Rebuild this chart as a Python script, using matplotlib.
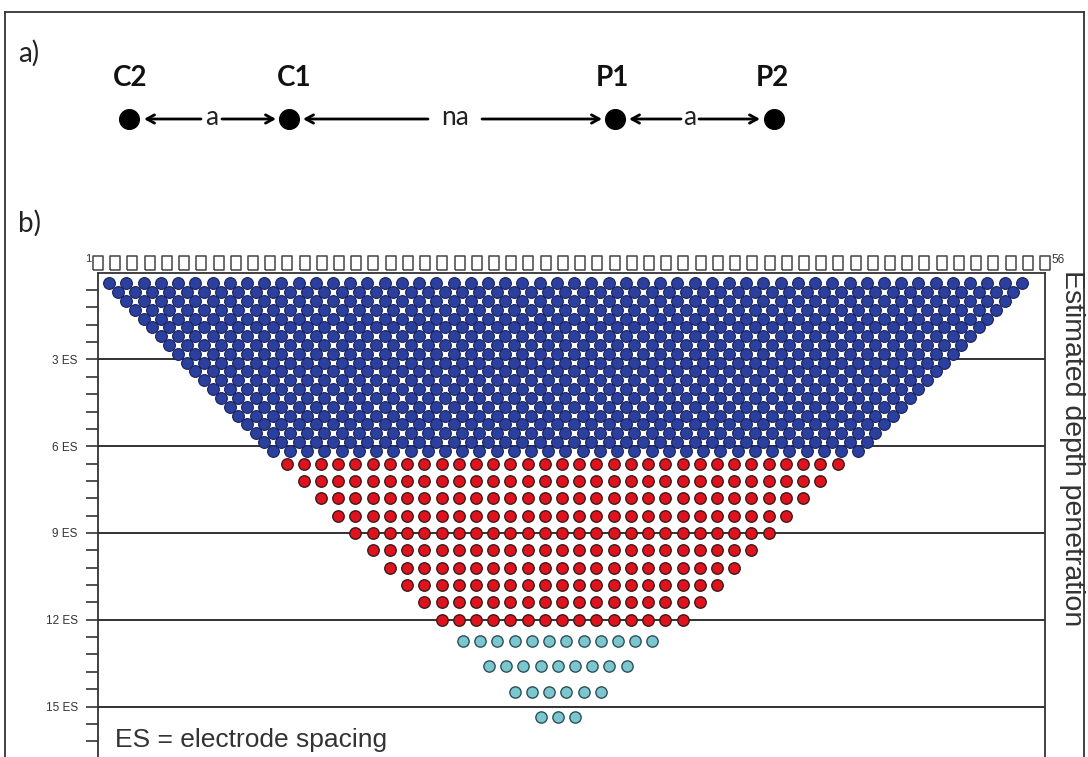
import numpy as np
import matplotlib
matplotlib.use("Agg")
import matplotlib.pyplot as plt

# ---------------- data ----------------
electrode_ids = list(range(1, 57))          # 56 electrodes
electrode_labels = ["C2", "C1", "P1", "P2"]
spacing_labels = ["a", "na", "a"]

# blue block: depth (ES), first position (electrode units), number of points
blue_depths = [0.37, 0.67, 0.98, 1.28, 1.59, 1.89, 2.20, 2.50, 2.80, 3.11,
               3.41, 3.72, 4.02, 4.33, 4.63, 4.94, 5.24, 5.54, 5.85, 6.15]
blue_starts = [1.65, 2.15, 2.65, 3.15, 3.65, 4.15, 4.65, 5.15, 5.65, 6.15,
               6.65, 7.15, 7.65, 8.15, 8.65, 9.15, 9.65, 10.15, 10.65, 11.15]
blue_counts = [54, 53, 52, 51, 50, 49, 48, 47, 46, 45,
               44, 43, 42, 41, 40, 39, 38, 37, 36, 35]

red_depths = [6.6, 7.2, 7.8, 8.4, 9.0, 9.6, 10.2, 10.8, 11.4, 12.0]
red_starts = [11.95, 12.95, 13.95, 14.95, 15.95, 16.95, 17.95, 18.95, 19.95, 20.95]
red_counts = [33, 31, 29, 27, 25, 23, 21, 19, 17, 15]

cyan_depths = [12.74, 13.60, 14.49, 15.35]
cyan_starts = [22.20, 23.70, 25.20, 26.70]
cyan_counts = [12, 9, 6, 3]

depth_lines = [3, 6, 9, 12, 15]
depth_labels = ["3 ES", "6 ES", "9 ES", "12 ES", "15 ES"]

# ---------------- figure ----------------
W, H = 1088, 757
fig = plt.figure(figsize=(W / 100, H / 100), dpi=100)
fig.patch.set_facecolor("white")

# overlay in pixel coordinates for the schematic and texts
ov = fig.add_axes([0, 0, 1, 1], zorder=0)
ov.set_xlim(0, W)
ov.set_ylim(H, 0)
ov.axis("off")

# outer frame
ov.plot([5, 5], [12, H], color="#333333", lw=1.3)
ov.plot([5, 1084], [12, 12], color="#333333", lw=1.3)
ov.plot([1084, 1084], [12, H], color="#333333", lw=1.3)

lab_font = "Lato"
ov.text(18, 62, "a)", fontsize=20, family=lab_font, va="baseline", ha="left", color="#222")
ov.text(18, 232, "b)", fontsize=20, family=lab_font, va="baseline", ha="left", color="#222")

# a) dipole-dipole schematic
dot_x = [129, 289, 615, 774]
lab_x = [130, 294, 612, 772]
dot_y = 119
ov.scatter(dot_x, [dot_y] * 4, s=200, color="black", zorder=3)
for lx, lab in zip(lab_x, electrode_labels):
    ov.text(lx, 86, lab, fontsize=20, fontweight="bold", family=lab_font,
            ha="center", va="baseline", color="#111")

arrow_kw = dict(arrowstyle="->,head_length=0.55,head_width=0.3", lw=2, color="black",
                shrinkA=0, shrinkB=0)
segments = [
    ((201, 144), (222, 276), 212),   # between C2 and C1
    ((428, 303), (482, 602), 455),   # between C1 and P1
    ((681, 629), (699, 760), 690),   # between P1 and P2
]
for (left_tail, left_tip), (right_tail, right_tip), tx in segments:
    ov.annotate("", xy=(left_tip, dot_y), xytext=(left_tail, dot_y), arrowprops=arrow_kw)
    ov.annotate("", xy=(right_tip, dot_y), xytext=(right_tail, dot_y), arrowprops=arrow_kw)
for (seg, lab) in zip(segments, spacing_labels):
    ov.text(seg[2], 125, lab, fontsize=19, family=lab_font, ha="center",
            va="baseline", color="#222")

# ---------------- b) pseudosection ----------------
x0, x1 = 98, 1045
ytop = 272.7
es_px = 28.92
ymax = (H - ytop) / es_px
ax = fig.add_axes([x0 / W, 0, (x1 - x0) / W, 1 - ytop / H], zorder=2)
ax.patch.set_alpha(0)
ax.set_xlim(1, 56)
ax.set_ylim(ymax, 0)

for s in ["left", "right", "top"]:
    ax.spines[s].set_color("#333333")
    ax.spines[s].set_linewidth(1.3)
ax.spines["bottom"].set_visible(False)

for d in depth_lines:
    ax.axhline(d, color="#222222", lw=1.3, zorder=1)

tick_pos = [round(0.6 * k, 2) for k in range(1, 28)]
ax.set_yticks(tick_pos)
ax.set_yticklabels([depth_labels[depth_lines.index(int(round(t)))]
                    if abs(t - round(t)) < 1e-6 and int(round(t)) in depth_lines else ""
                    for t in tick_pos])
ax.tick_params(axis="y", direction="out", length=8.6, width=1.2, color="#333333",
               labelsize=8.5, labelcolor="#333333", pad=6)
for lbl in ax.get_yticklabels():
    lbl.set_family("Liberation Sans")
ax.set_xticks([])

# electrodes on top
rect_marker = [(-0.32, -0.5), (0.32, -0.5), (0.32, 0.5), (-0.32, 0.5), (-0.32, -0.5)]
ax.scatter(electrode_ids, [-0.35] * len(electrode_ids), marker=rect_marker, s=115,
           facecolors="white", edgecolors="#444444", linewidths=1.1, clip_on=False, zorder=4)
ax.text(0.62, -0.66, "1", fontsize=8, ha="right", va="top", color="#333",
        family="Liberation Sans", clip_on=False)
ax.text(56.35, -0.66, "56", fontsize=8.5, ha="left", va="top", color="#333",
        family="Liberation Sans", clip_on=False)

def draw_rows(depths, starts, counts, face, edge, size, lw):
    for d, st, n in zip(depths, starts, counts):
        xs = st + np.arange(n)
        ax.scatter(xs, np.full(n, d), s=size, facecolors=face, edgecolors=edge,
                   linewidths=lw, zorder=3, clip_on=False)

draw_rows(blue_depths, blue_starts, blue_counts, "#2b3f9e", "#1a2358", 72, 0.8)
draw_rows(red_depths, red_starts, red_counts, "#e0121e", "#3a1c1c", 68, 1.0)
draw_rows(cyan_depths, cyan_starts, cyan_counts, "#7cc6cf", "#2c5058", 66, 1.0)

ov.text(1072, 448, "Estimated depth penetration", rotation=270, fontsize=20.5,
        family="Liberation Sans", ha="center", va="center", color="#333")
ov.text(115, 747, "ES = electrode spacing", fontsize=19, family="Liberation Sans",
        ha="left", va="baseline", color="#333", zorder=5)

fig.savefig("out.png", dpi=100, facecolor="white")
